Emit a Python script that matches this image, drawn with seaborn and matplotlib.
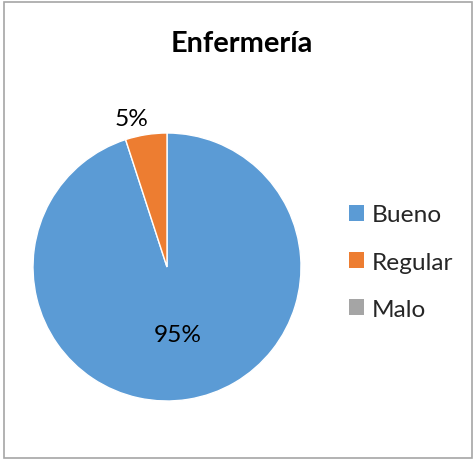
import matplotlib
matplotlib.use("Agg")
import matplotlib.pyplot as plt
from matplotlib.patches import Patch, Rectangle
import numpy as np
import seaborn as sns

# Survey results for the nursing service
categories = ["Bueno", "Regular", "Malo"]
percentages = [95, 5, 0]
colors = ["#5B9BD5", "#ED7D31", "#A5A5A5"]
title = "Enfermería"

sns.set_theme(style="white")
plt.rcParams["font.family"] = ["Lato", "DejaVu Sans"]
palette = sns.color_palette(colors)

W, H = 476, 460
fig = plt.figure(figsize=(W / 100, H / 100), dpi=100)

# outer chart frame
fig.patches.append(Rectangle((4 / W, 1 / H), 468 / W, 456 / H,
                             transform=fig.transFigure, fill=False,
                             edgecolor="#A6A6A6", linewidth=1.2))

# pie area: centre (167, 268) px, radius 134 px
cx, cy, r = 167, 268, 134
ax = fig.add_axes([(cx - r) / W, (H - cy - r) / H, 2 * r / W, 2 * r / H])

shown = [(c, v, col) for c, v, col in zip(categories, percentages, palette) if v > 0]
wedges, _ = ax.pie([v for _, v, _ in shown], colors=[col for _, _, col in shown],
                   startangle=90, counterclock=False, radius=1.0,
                   wedgeprops=dict(edgecolor="white", linewidth=1.0))
ax.set_xlim(-1, 1)
ax.set_ylim(-1, 1)
ax.set_aspect("equal")
ax.axis("off")

for w, (c, v, _) in zip(wedges, shown):
    mid = np.deg2rad((w.theta1 + w.theta2) / 2)
    if v >= 50:
        x, y = 0.51 * np.cos(mid), 0.51 * np.sin(mid)
    else:
        x, y = 1.125 * np.cos(mid) - 0.09, 1.125 * np.sin(mid)
    ax.text(x, y, f"{v}%", ha="center", va="center", fontsize=17.6, color="#000000")

fig.text(241.5 / W, 1 - 44 / H, title, ha="center", va="center",
         fontsize=20.8, fontweight="bold", color="#000000")

handles = [Patch(facecolor=col, edgecolor="none") for col in palette]
fig.legend(handles, categories, loc="center left",
           bbox_to_anchor=(349 / W, 1 - 263 / H), frameon=False,
           fontsize=17.6, handlelength=0.62, handleheight=0.62,
           handletextpad=0.33, labelspacing=1.07, borderpad=0, borderaxespad=0)

fig.savefig("out.png", dpi=100)
